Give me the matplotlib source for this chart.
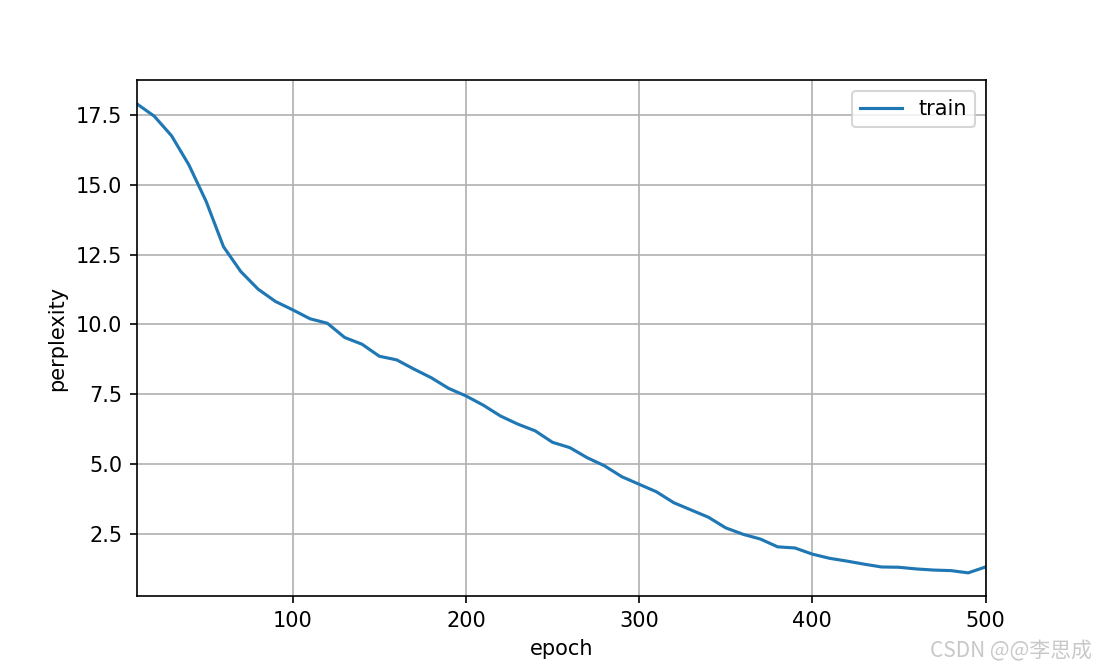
import matplotlib
matplotlib.use('Agg')
import matplotlib.pyplot as plt

# Datos
epochs = list(range(10, 501, 10))
perplexity = [17.89, 17.45, 16.75, 15.71, 14.40, 12.78, 11.89, 11.26, 10.82, 10.52,
              10.20, 10.04, 9.53, 9.29, 8.86, 8.73, 8.40, 8.09, 7.71, 7.44,
              7.11, 6.72, 6.43, 6.19, 5.78, 5.59, 5.23, 4.94, 4.55, 4.28,
              4.01, 3.62, 3.36, 3.10, 2.72, 2.49, 2.32, 2.04, 2.00, 1.78,
              1.63, 1.53, 1.42, 1.32, 1.31, 1.25, 1.21, 1.19, 1.11, 1.32]

fig = plt.figure(figsize=(7.3, 670 / 150), dpi=150)
ax = fig.add_subplot(111)

ax.plot(epochs, perplexity, color='#1f77b4', label='train')
ax.set_xlim(10, 500)
ax.set_xlabel('epoch')
ax.set_ylabel('perplexity')
ax.grid(True)
ax.legend(loc='upper right')

# Marca de agua
fig.text(0.997, 0.012, 'CSDN @@李思成', ha='right', va='bottom', fontsize=10,
         color='#c8c8c8', family=['Noto Sans CJK SC', 'DejaVu Sans'])

fig.savefig('out.png', dpi=150)
